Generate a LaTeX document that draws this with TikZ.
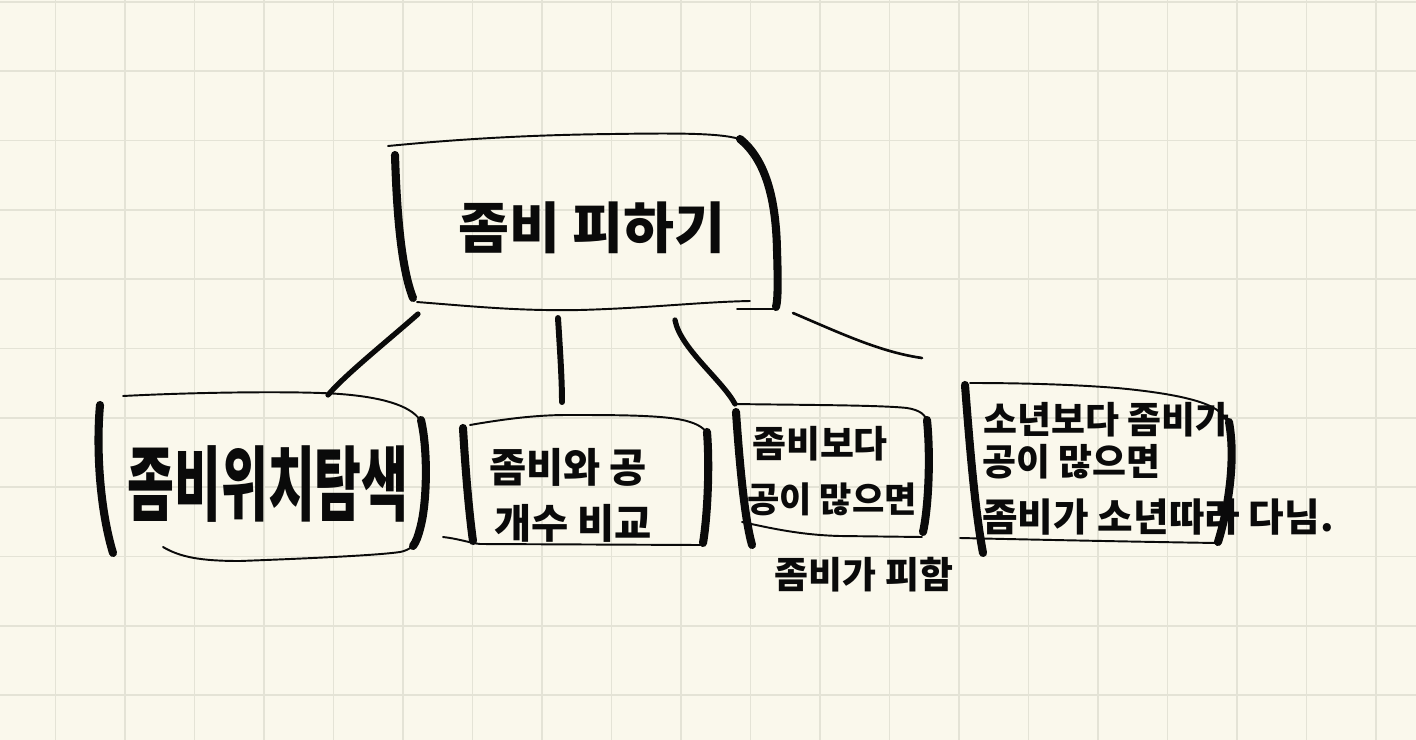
\documentclass[tikz,border=0pt]{standalone}
\usepackage{graphicx}
\usepackage{fontspec}
\newfontfamily\kr{Noto Sans CJK KR}
\definecolor{paper}{HTML}{FAF8EC}
\definecolor{gridc}{HTML}{E4E3D6}
\definecolor{ink}{HTML}{0A0A0A}
\tikzset{
  thinline/.style={draw=ink,line width=1.1pt,line cap=round},
  thickline/.style={draw=ink,line width=4.6pt,line cap=round},
  conn/.style={draw=ink,line width=3pt,line cap=round},
  connthin/.style={draw=ink,line width=1.5pt,line cap=round},
  lbl/.style={inner sep=0pt,font=\kr\bfseries,text=ink},
}
\begin{document}
\begin{tikzpicture}[x=0.02cm,y=-0.02cm]
\fill[paper] (0,0) rectangle (1416,740);
\useasboundingbox (0,0) rectangle (1416,740);
% grid
\foreach \k in {0,...,19} {\draw[gridc,line width=1pt] ({55.5+69.5*\k},0) -- ({55.5+69.5*\k},740);}
\foreach \k in {0,...,10} {\draw[gridc,line width=1pt] (0,{2+69.3*\k}) -- (1416,{2+69.3*\k});}

% ---------- top box ----------
\node[lbl,font=\kr\bfseries\fontsize{31.5}{34}\selectfont] (top) at (592,228) {좀비 피하기};
\draw[thinline] (388,146) .. controls (450,140) and (520,135) .. (613,134) .. controls (680,133) and (725,133) .. (742,140);
\draw[thickline] (740,139) .. controls (766,160) and (776,200) .. (777,250) .. controls (778,280) and (778,300) .. (776,307);
\draw[thickline] (395,155) .. controls (397,220) and (402,270) .. (413,298);
\draw[thinline] (417,302) .. controls (480,307) and (520,311) .. (580,310) .. controls (650,308) and (700,302) .. (750,301);
\draw[thinline] (737,309) -- (773,309);

% ---------- connector anchors ----------
\coordinate (c1a) at (418,314); \coordinate (c1b) at (328,395);
\coordinate (c2a) at (558,318); \coordinate (c2b) at (562,402);
\coordinate (c3a) at (675,320); \coordinate (c3b) at (735,404);
\coordinate (c4a) at (793,313); \coordinate (c4b) at (922,358);
\draw[conn] (c1a) .. controls (385,343) and (345,375) .. (c1b);
\draw[conn,line width=3.4pt] (c2a) .. controls (560,350) and (562,380) .. (c2b);
\draw[conn] (c3a) .. controls (680,348) and (722,380) .. (c3b);
\draw[connthin] (c4a) .. controls (840,333) and (880,352) .. (c4b);

% ---------- box 1 ----------
\node[lbl,font=\kr\bfseries\fontsize{29}{32}\selectfont] (b1) at (268,484) {\scalebox{1}[1.6]{좀비위치탐색}};
\draw[thickline] (100,405) .. controls (96,450) and (100,510) .. (113,553);
\draw[thinline] (123,396) .. controls (200,392) and (300,391) .. (340,394) .. controls (380,397) and (410,405) .. (420,420);
\draw[thickline] (421,420) .. controls (428,450) and (427,500) .. (421,525) .. controls (418,537) and (416,542) .. (413,546);
\draw[thinline] (163,547) .. controls (180,557) and (200,561) .. (240,561) .. controls (320,558) and (380,555) .. (400,552) .. controls (410,550) and (416,545) .. (420,535);

% ---------- box 2 ----------
\node[lbl,font=\kr\bfseries\fontsize{23}{26}\selectfont] (b2a) at (568,467) {좀비와 공};
\node[lbl,font=\kr\bfseries\fontsize{23}{26}\selectfont] (b2b) at (573,523) {개수 비교};
\draw[thickline] (463,428) .. controls (466,480) and (470,520) .. (473,541);
\draw[thinline] (470,425) .. controls (510,418) and (540,415) .. (567,415) .. controls (620,415) and (670,415) .. (690,422) .. controls (700,425) and (706,430) .. (708,435);
\draw[thickline] (707,432) .. controls (710,470) and (707,520) .. (703,543);
\draw[thinline] (443,537) .. controls (460,539) and (470,543) .. (480,544) -- (700,545);

% ---------- box 3 ----------
\node[lbl,font=\kr\bfseries\fontsize{21}{24}\selectfont] (b3a) at (820,444) {좀비보다};
\node[lbl,font=\kr\bfseries\fontsize{20}{23}\selectfont] (b3b) at (832,499) {공이 많으면};
\node[lbl,font=\kr\bfseries\fontsize{21}{24}\selectfont] (b3c) at (864,575) {좀비가 피함};
\draw[thickline] (736,412) .. controls (740,470) and (745,520) .. (752,545);
\draw[thinline] (c3b) .. controls (800,405) and (880,405) .. (907,408) .. controls (920,410) and (926,415) .. (927,422);
\draw[thickline] (927,420) .. controls (931,460) and (928,510) .. (923,532);
\draw[thinline] (742,522) .. controls (770,528) and (800,535) .. (840,536) -- (922,537);

% ---------- box 4 ----------
\node[lbl,anchor=west,font=\kr\bfseries\fontsize{21}{24}\selectfont] (b4a) at (983,420) {소년보다 좀비가};
\node[lbl,anchor=west,font=\kr\bfseries\fontsize{21}{24}\selectfont] (b4b) at (982,462) {공이 많으면};
\node[lbl,anchor=west,font=\kr\bfseries\fontsize{22}{25}\selectfont] (b4c) at (982,517) {좀비가 소년따라 다님.};
\draw[thickline] (965,385) .. controls (970,450) and (975,510) .. (983,553);
\draw[thinline] (970,383) .. controls (1030,383) and (1080,385) .. (1117,388) .. controls (1160,392) and (1195,398) .. (1212,407) .. controls (1222,412) and (1228,420) .. (1230,430);
\draw[thickline] (1229,422) .. controls (1236,460) and (1228,510) .. (1218,542);
\draw[thinline] (960,538) .. controls (1050,540) and (1150,542) .. (1217,543);
\end{tikzpicture}
\end{document}
